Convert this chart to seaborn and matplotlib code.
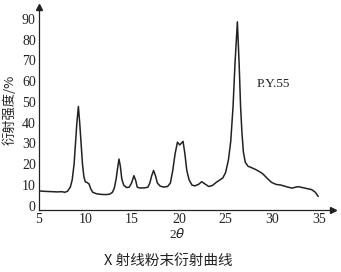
import matplotlib
matplotlib.use("Agg")
import matplotlib.pyplot as plt
import seaborn as sns
import pandas as pd

two_theta = [5.0, 5.5, 6.0, 6.5, 7.0, 7.5, 7.8, 8.1, 8.4, 8.6, 8.8, 8.95, 9.1, 9.26, 9.4,
             9.55, 9.7, 9.85, 10.0, 10.2, 10.4, 10.6, 10.8, 11.2, 11.7, 12.2, 12.6, 12.9,
             13.1, 13.3, 13.45, 13.6, 13.75, 13.9, 14.1, 14.4, 14.7, 14.95, 15.2, 15.4,
             15.55, 15.8, 16.3, 16.7, 16.9, 17.1, 17.3, 17.5, 17.7, 18.0, 18.4, 18.8, 19.1,
             19.35, 19.6, 19.85, 20.1, 20.45, 20.65, 20.85, 21.1, 21.4, 21.7, 22.1, 22.45,
             22.8, 23.2, 23.6, 24.0, 24.4, 24.7, 25.0, 25.3, 25.55, 25.8, 26.0, 26.26,
             26.45, 26.6, 26.75, 26.9, 27.1, 27.4, 27.7, 28.2, 28.6, 29.0, 29.5, 29.9,
             30.4, 30.9, 31.5, 32.1, 32.5, 32.8, 33.3, 33.8, 34.2, 34.6, 34.9]
intensity = [7.2, 7.0, 6.9, 6.8, 6.7, 6.8, 6.5, 7.0, 9.0, 12.5, 20, 30, 40, 47.8, 40,
             30, 20, 14, 11.5, 11.2, 10.5, 8.0, 6.5, 5.8, 5.5, 5.4, 5.6, 6.5,
             8.5, 13, 18, 22.5, 19, 13, 10, 8.8, 9.0, 11, 14.5, 12,
             9.0, 8.6, 8.6, 9.0, 11, 14.5, 17, 14.5, 11, 9.5, 9.0, 9.3, 11,
             17, 25, 30.6, 29.3, 31, 25, 17, 12.5, 10, 9.6, 10.3, 11.6,
             10.5, 9.3, 9.8, 11.3, 12.5, 13.4, 16, 22, 31, 48, 68, 88.5,
             68, 48, 35, 26, 21, 19, 18.5, 17.5, 16.5, 15.3, 13, 11.3,
             10.3, 10, 9.2, 8.5, 9, 9.2, 8.7, 8.2, 7.8, 6.5, 4.5]

x_ticks = [5, 10, 15, 20, 25, 30, 35]
y_ticks = [0, 10, 20, 30, 40, 50, 60, 70, 80, 90]

sns.set_style("white")
plt.rcParams['font.family'] = ['Liberation Serif', 'Noto Sans CJK SC']

df = pd.DataFrame({"x": two_theta, "y": intensity})

fig = plt.figure(figsize=(3.41, 2.72), dpi=100)
ax = fig.add_axes([0.113, 0.228, 0.864, 0.746])
sns.lineplot(data=df, x="x", y="y", ax=ax, color="#222222", linewidth=1.1,
             sort=False, estimator=None)

ax.set_xlim(5, 36.5)
ax.set_ylim(-2, 95.6)
ax.set_xticks(x_ticks)
ax.set_yticks(y_ticks)
ax.tick_params(axis='both', direction='in', length=3, width=0.8, labelsize=10,
               colors="#222222", pad=2)
for s in ["top", "right"]:
    ax.spines[s].set_visible(False)
for s in ["left", "bottom"]:
    ax.spines[s].set_color("#222222")
    ax.spines[s].set_linewidth(0.9)

# arrow heads on axes
ax.plot(1, 0, ">", transform=ax.transAxes, color="#222222", markersize=4, clip_on=False)
ax.plot(0, 1, "^", transform=ax.transAxes, color="#222222", markersize=4, clip_on=False)

ax.set_xlabel("")
ax.set_ylabel("")
fig.text(0.03, 0.596, "衍射强度/%", rotation=90, ha="center", va="center",
         fontsize=9.5, family=['Noto Sans CJK SC', 'DejaVu Sans'], color="#222222")
fig.text(0.52, 0.14, "2$\\theta$", ha="center", va="center", fontsize=9.5,
         color="#222222")
fig.text(0.495, 0.04, "X 射线粉末衍射曲线", ha="center", va="center", fontsize=10.5,
         family=['Noto Sans CJK SC', 'DejaVu Sans'], color="#222222")
ax.text(30.1, 58.5, "P.Y.55", ha="center", va="center", fontsize=9.5, color="#222222")

fig.savefig("out.png", dpi=100)
